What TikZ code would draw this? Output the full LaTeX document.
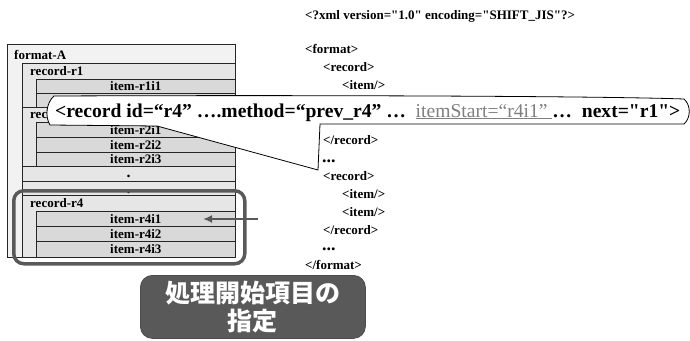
\documentclass[tikz,border=0pt]{standalone}
\usepackage{fontspec}
\setmainfont{Liberation Serif}[Ligatures=TeXOff]
\newfontfamily\cjk{Noto Sans CJK JP}
\usetikzlibrary{arrows.meta}
\definecolor{fmtfill}{HTML}{F2F2F2}
\definecolor{recfill}{HTML}{E6E6E6}
\definecolor{itemfill}{HTML}{D9D9D9}
\definecolor{dgray}{HTML}{595959}
\definecolor{lgray}{HTML}{808080}
\begin{document}
\begin{tikzpicture}[x=1pt,y=-1pt,
  frame/.style={draw=black!85, line width=0.7pt, inner sep=0pt, anchor=north west},
  fmtbox/.style={frame, fill=fmtfill},
  recbox/.style={frame, fill=recfill, minimum width=213pt},
  itembox/.style={frame, fill=itemfill, minimum width=199pt, minimum height=15pt,
     font=\fontsize{13}{13}\selectfont\bfseries},
  lbl/.style={font=\fontsize{13}{13}\selectfont\bfseries, inner sep=0pt, anchor=base west},
  xml/.style={font=\fontsize{13}{13}\selectfont\bfseries, inner sep=0pt, anchor=base west},
  dotlbl/.style={font=\fontsize{16}{16}\selectfont\bfseries, inner sep=0pt, anchor=base},
]
\useasboundingbox (0,0) rectangle (690,340);

% ---------- left panel ----------
\node[fmtbox, minimum width=228pt, minimum height=213pt] (fmtA) at (7,44) {};
\node[lbl] (fmtAl) at (14,59) {format-A};

\node[recbox, minimum height=44pt] (rec1) at (22,63) {};
\node[lbl] (rec1l) at (30,75) {record-r1};
\node[itembox, minimum height=14pt] (r1i1) at (36,79) {item-r1i1};
\node[itembox, minimum height=14pt] (r1i2) at (36,93) {};

\node[recbox, minimum height=59pt] (rec2) at (22,107) {};
\node[lbl] (rec2l) at (30,118) {record-r2};
\node[itembox] (r2i1) at (36,122) {item-r2i1};
\node[itembox] (r2i2) at (36,137) {item-r2i2};
\node[itembox, minimum height=14pt] (r2i3) at (36,152) {item-r2i3};

\node[recbox, minimum height=15pt] (rec3) at (22,166) {};
\node[dotlbl] (dot1) at (128.5,177) {.};
\node[recbox, minimum height=14pt] (recd) at (22,181) {};
\node[dotlbl] (dot2) at (128.5,193) {.};

\node[recbox, minimum height=62pt] (rec4) at (22,195) {};
\node[lbl] (rec4l) at (30,207) {record-r4};
\node[itembox] (r4i1) at (36,211) {item-r4i1};
\node[itembox] (r4i2) at (36,226) {item-r4i2};
\node[itembox, minimum height=16pt] (r4i3) at (36,241) {item-r4i3};

% ---------- XML text ----------
\node[xml] (x1) at (305,19) {<?xml version="1.0" encoding="SHIFT\_JIS"?>};
\node[xml] (x2) at (305,53) {<format>};
\node[xml] (x3) at (323,71) {<record>};
\node[xml] (x4) at (342,89) {<item/>};
\node[xml] (x5) at (323,144) {</record>};
\node[xml, font=\fontsize{18}{18}\selectfont\bfseries] (x6) at (322,162) {...};
\node[xml] (x7) at (323,180) {<record>};
\node[xml] (x8) at (342,198) {<item/>};
\node[xml] (x9) at (342,216) {<item/>};
\node[xml] (x10) at (323,234) {</record>};
\node[xml, font=\fontsize{18}{18}\selectfont\bfseries] (x11) at (322,250) {...};
\node[xml] (x12) at (305,269) {</format>};

% ---------- callout ----------
\draw[fill=white, draw=black, line width=0.8pt]
  (54,96) .. controls (300,95) and (600,96) .. (684,99)
  .. controls (691,105) and (691,118) .. (684,124)
  -- (320,124) -- (318,170) -- (157,126) -- (50,125)
  .. controls (45,117) and (46,103) .. (54,96) -- cycle;
\node[anchor=base west, inner sep=0pt, font=\fontsize{19.6}{20}\selectfont\bfseries] (calltext) at (55,117)
  {<record id=“r4” ….method=“prev\_r4” …\ \ {\mdseries\color{lgray}\underline{itemStart=“r4i1”\ }}…\ \ next="r1">};

% ---------- highlight & arrow ----------
\node[draw=dgray, line width=3.5pt, rounded corners=10pt, minimum width=231pt, minimum height=73pt,
      anchor=north west, inner sep=0pt] (hl) at (12,189) {};
\coordinate (arrS) at (258,219);
\coordinate (arrE) at (203,219);
\draw[dgray, line width=2pt, -{Latex[length=9pt,width=8pt]}] (arrS) -- (arrE);

% ---------- bottom label ----------
\node[fill=dgray, draw=black!70, line width=0.8pt, rounded corners=12pt, minimum width=225pt, minimum height=63pt,
      anchor=north west, inner sep=0pt] (jbox) at (140,275) {};
\node[text=white, align=center, inner sep=0pt, font={\cjk\bfseries\fontsize{25}{28}\selectfont}] (jtext) at (jbox.center) {処理開始項目の\\指定};
\end{tikzpicture}
\end{document}
